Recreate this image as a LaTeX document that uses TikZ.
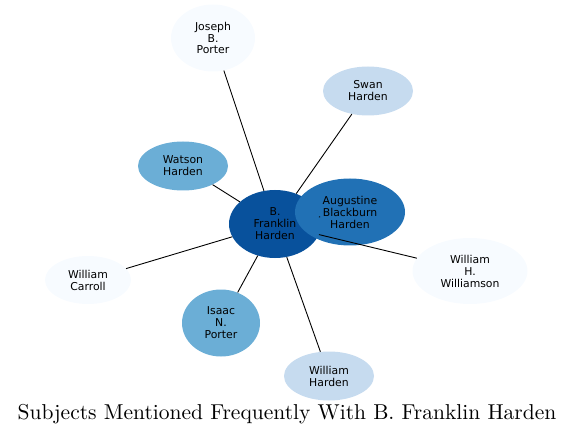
\documentclass[tikz,border=0pt]{standalone}
\usepackage{fontspec}
\usepackage{tikz}
\usetikzlibrary{shapes.geometric}
\newfontfamily\nodefont{DejaVu Sans}
\newfontfamily\titlefont{lmroman10-regular.otf}
\definecolor{bluedark}{HTML}{08519C}
\definecolor{bluemid}{HTML}{2171B5}
\definecolor{bluelight}{HTML}{6BAED6}
\definecolor{bluepale}{HTML}{C6DBEF}
\definecolor{bluewhite}{HTML}{F7FBFF}

\begin{document}
\begin{tikzpicture}[x=1bp, y=-1bp,
    person/.style={ellipse, inner sep=0pt, align=center, text=black,
        font=\nodefont\fontsize{10.9}{12}\selectfont},
    link/.style={draw=black, line width=0.9pt}]
    \useasboundingbox (0,0) rectangle (573,437);

    % Center node
    \node[person, fill=bluedark, minimum width=92bp, minimum height=68bp] (franklin) at (275,224) {B.\\Franklin\\Harden};

    % Surrounding subjects
    \node[person, fill=bluemid, minimum width=110bp, minimum height=67bp] (augustine) at (350,212) {Augustine\\Blackburn\\Harden};
    \node[person, fill=bluewhite, minimum width=84bp, minimum height=67bp] (joseph) at (213,38) {Joseph\\B.\\Porter};
    \node[person, fill=bluepale, minimum width=90bp, minimum height=49bp] (swan) at (368,91) {Swan\\Harden};
    \node[person, fill=bluelight, minimum width=90bp, minimum height=49bp] (watson) at (183,166) {Watson\\Harden};
    \node[person, fill=bluewhite, minimum width=86bp, minimum height=48bp] (carroll) at (88,280) {William\\Carroll};
    \node[person, fill=bluewhite, minimum width=115bp, minimum height=66bp] (williamson) at (470,271) {William\\H.\\Williamson};
    \node[person, fill=bluelight, minimum width=78bp, minimum height=67bp] (isaac) at (221,323) {Isaac\\N.\\Porter};
    \node[person, fill=bluepale, minimum width=90bp, minimum height=49bp] (wharden) at (329,376) {William\\Harden};

    % Connectors
    \draw[link] (franklin) -- (joseph);
    \draw[link] (franklin) -- (swan);
    \draw[link] (franklin) -- (watson);
    \draw[link] (franklin) -- (carroll);
    \draw[link] (franklin) -- (williamson);
    \draw[link] (franklin) -- (isaac);
    \draw[link] (franklin) -- (wharden);
    \draw[link, shorten >=22.5bp] (franklin) -- (augustine);

    % Title
    \node[font=\titlefont\fontsize{21.6}{24}\selectfont] (title) at (287,414) {Subjects Mentioned Frequently With B. Franklin Harden};
\end{tikzpicture}
\end{document}
